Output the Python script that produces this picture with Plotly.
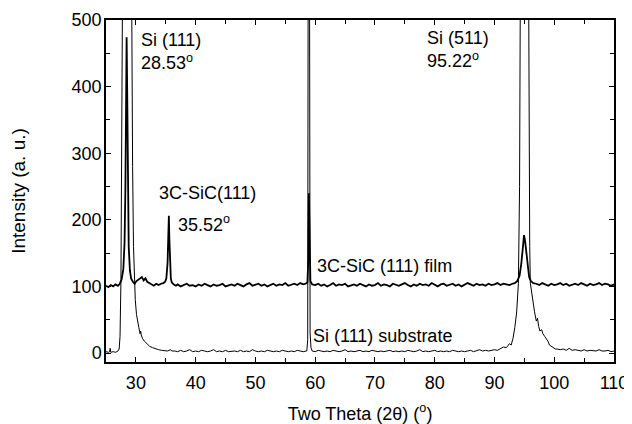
import plotly.graph_objects as go

# ---------------- data ----------------
# 3C-SiC (111) film on Si(111): baseline ~100
film_peak1_x = [25.0, 25.4, 25.8, 26.2, 26.6, 27.0, 27.3, 27.6, 27.9, 28.1, 28.25, 28.35, 28.45, 28.55, 28.65, 28.8,
                29.0, 29.2, 29.5, 29.8, 30.1, 30.4, 30.7, 31.0, 31.3, 31.6, 31.9, 32.2, 32.6, 33.0, 33.4, 33.8,
                34.2, 34.6, 34.9, 35.1, 35.3, 35.42, 35.52, 35.6, 35.7, 35.85, 36.0, 36.3, 36.7]
film_peak1_y = [101, 99, 102, 100, 103, 101, 104, 110, 126, 165, 250, 390, 474, 390, 245, 160,
                124, 112, 107, 104, 108, 110, 112, 114, 109, 112, 107, 105, 103, 101, 104, 102,
                104, 105, 107, 112, 135, 180, 206, 172, 130, 112, 106, 103, 101]

film_base1_x = [37.0, 37.5, 38.0, 38.5, 39.0, 39.5, 40.0, 40.5, 41.0, 41.5, 42.0, 42.5, 43.0, 43.5, 44.0,
                44.5, 45.0, 45.5, 46.0, 46.5, 47.0, 47.5, 48.0, 48.5, 49.0, 49.5, 50.0, 50.5, 51.0, 51.5,
                52.0, 52.5, 53.0, 53.5, 54.0, 54.5, 55.0, 55.5, 56.0, 56.5, 57.0, 57.5, 58.0]
film_base1_y = [103, 100, 102, 104, 101, 102, 100, 103, 101, 104, 102, 100, 103, 101, 102,
                104, 100, 102, 103, 101, 104, 102, 100, 103, 105, 101, 102, 104, 101, 103,
                100, 102, 104, 101, 103, 102, 105, 101, 103, 104, 102, 105, 103]

film_peak2_x = [58.4, 58.7, 58.85, 58.95, 59.05, 59.2, 59.5]
film_peak2_y = [104, 106, 140, 240, 150, 108, 103]

film_base2_x = [60.0, 60.5, 61.0, 61.5, 62.0, 62.5, 63.0, 63.5, 64.0, 64.5, 65.0, 65.5, 66.0, 66.5, 67.0,
                67.5, 68.0, 68.5, 69.0, 69.5, 70.0, 70.5, 71.0, 71.5, 72.0, 72.5, 73.0, 73.5, 74.0, 74.5,
                75.0, 75.5, 76.0, 76.5, 77.0, 77.5, 78.0, 78.5, 79.0, 79.5, 80.0, 80.5, 81.0, 81.5, 82.0,
                82.5, 83.0, 83.5, 84.0, 84.5, 85.0, 85.5, 86.0, 86.5, 87.0, 87.5, 88.0, 88.5, 89.0, 89.5,
                90.0, 90.5, 91.0, 91.5, 92.0, 92.5, 93.0]
film_base2_y = [102, 104, 101, 103, 100, 102, 105, 101, 103, 102,
                104, 100, 102, 103, 101, 104, 102, 100, 103, 101,
                102, 105, 101, 103, 102, 100, 104, 102, 101, 103,
                105, 102, 100, 103, 101, 104, 102, 103, 101, 105,
                102, 100, 103, 104, 101, 102, 104, 101, 103, 100,
                102, 105, 103, 101, 104, 102, 103, 101, 104, 102,
                103, 105, 102, 104, 103, 102, 104]

film_peak3_x = [93.4, 93.8, 94.2, 94.5, 94.75, 94.95, 95.15, 95.4, 95.6, 95.8, 96.1, 96.5]
film_peak3_y = [105, 108, 116, 135, 160, 177, 166, 142, 126, 114, 108, 105]

film_base3_x = [97.0, 97.5, 98.0, 98.5, 99.0, 99.5, 100.0, 100.5, 101.0, 101.5, 102.0, 102.5, 103.0, 103.5,
                104.0, 104.5, 105.0, 105.5, 106.0, 106.5, 107.0, 107.5, 108.0, 108.5, 109.0, 109.5, 110.0]
film_base3_y = [104, 102, 105, 103, 101, 104, 102, 103, 105, 102, 104, 101, 103, 104,
                102, 105, 103, 101, 104, 102, 103, 105, 102, 104, 103, 101, 103]

# Si (111) substrate: baseline ~0, saturated Si peaks
sub_peak1_x = [25.0, 25.4, 25.6, 25.7, 25.8, 26.2, 26.6, 27.0, 27.2, 27.35, 27.5, 27.65, 27.8, 28.0, 28.5,
               29.0, 29.2, 29.3, 29.45, 29.6, 29.75, 29.9, 30.1, 30.3, 30.5, 30.7, 30.8, 30.9, 31.1, 31.4, 31.8,
               32.3, 32.8, 33.3, 33.8, 34.3, 34.8, 35.3, 35.8, 36.0]
sub_peak1_y = [2, 1, 2, 7, 1, 2, 1, 3, 6, 25, 110, 300, 600, 1000, 1500,
               1000, 700, 480, 280, 160, 105, 80, 58, 45, 38, 29, 33, 27, 22, 18, 14,
               10, 8, 6, 5, 4, 4, 3, 5, 3]

sub_base1_x = [36.5, 37.0, 37.5, 38.0, 38.5, 39.0, 39.5, 40.0, 40.5, 41.0, 41.5, 42.0, 42.5, 43.0, 43.5,
               44.0, 44.5, 45.0, 45.5, 46.0, 46.5, 47.0, 47.5, 48.0, 48.5, 49.0, 49.5, 50.0, 50.5, 51.0,
               51.5, 52.0, 52.5, 53.0, 53.5, 54.0, 54.5, 55.0, 55.5, 56.0, 56.5, 57.0, 57.5, 58.0, 58.5]
sub_base1_y = [3, 2, 4, 2, 3, 5, 2, 3, 2, 4, 3, 2, 3, 5, 2,
               3, 2, 4, 2, 3, 3, 2, 4, 2, 3, 2, 5, 3, 2, 3,
               2, 4, 3, 2, 3, 2, 4, 3, 2, 3, 2, 4, 3, 2, 3]

sub_peak2_x = [58.6, 58.75, 58.85, 58.95, 59.05, 59.15, 59.3]
sub_peak2_y = [3, 20, 900, 1500, 600, 30, 8]

sub_base2_x = [59.5, 60.0, 60.5, 61.0, 61.5, 62.0, 62.5, 63.0, 63.5, 64.0, 64.5, 65.0, 65.5, 66.0, 66.5,
               67.0, 67.5, 68.0, 68.5, 69.0, 69.5, 70.0, 70.5, 71.0, 71.5, 72.0, 72.5, 73.0, 73.5, 74.0,
               74.5, 75.0, 75.5, 76.0, 76.5, 77.0, 77.5, 78.0, 78.5, 79.0, 79.5, 80.0, 80.5, 81.0, 81.5,
               82.0, 82.5, 83.0, 83.5, 84.0, 84.5, 85.0, 85.5, 86.0, 86.5, 87.0, 87.5, 88.0, 88.5, 89.0,
               89.5, 90.0, 90.5]
sub_base2_y = [3, 2, 4, 3, 2, 3, 2, 4, 3, 2, 3, 5, 2, 3, 2,
               3, 4, 2, 3, 2, 4, 3, 2, 3, 2, 3, 4, 2, 3, 2,
               3, 2, 4, 3, 2, 3, 5, 2, 3, 2, 3, 4, 2, 3, 2,
               3, 2, 4, 3, 2, 3, 2, 3, 4, 2, 3, 5, 3, 4, 3,
               4, 5, 4]

sub_peak3_x = [91.0, 91.5, 92.0, 92.5, 92.8, 93.1, 93.4, 93.7, 94.0, 94.2, 94.35, 94.6, 95.2, 95.6, 95.75,
               95.9, 96.0, 96.2, 96.4, 96.7, 97.0, 97.2, 97.4, 97.6, 97.9, 98.1, 98.4, 98.7, 99.0, 99.2,
               99.5, 99.8, 100.2]
sub_peak3_y = [6, 9, 8, 14, 12, 22, 38, 60, 104, 250, 600, 1200, 1500, 800, 400,
               160, 105, 92, 80, 62, 48, 52, 40, 33, 35, 29, 25, 21, 17, 12,
               10, 8, 6]

sub_base3_x = [100.5, 101.0, 101.5, 102.0, 102.5, 103.0, 103.5, 104.0, 104.5, 105.0, 105.5, 106.0, 106.5,
               107.0, 107.5, 108.0, 108.5, 109.0, 109.5, 110.0]
sub_base3_y = [6, 5, 6, 4, 7, 4, 5, 4, 3, 5, 3, 4, 3, 3, 5, 3, 3, 4, 2, 3]

x_ticks = [30, 40, 50, 60, 70, 80, 90, 100, 110]
y_ticks = [0, 100, 200, 300, 400, 500]

film_x = film_peak1_x + film_base1_x + film_peak2_x + film_base2_x + film_peak3_x + film_base3_x
film_y = film_peak1_y + film_base1_y + film_peak2_y + film_base2_y + film_peak3_y + film_base3_y
sub_x = sub_peak1_x + sub_base1_x + sub_peak2_x + sub_base2_x + sub_peak3_x + sub_base3_x
sub_y = sub_peak1_y + sub_base1_y + sub_peak2_y + sub_base2_y + sub_peak3_y + sub_base3_y
assert len(film_x) == len(film_y), (len(film_x), len(film_y))
assert len(sub_x) == len(sub_y), (len(sub_x), len(sub_y))

# ---------------- figure ----------------
FONT = "Liberation Sans, Arial, sans-serif"

fig = go.Figure()
fig.add_trace(go.Scatter(x=sub_x, y=sub_y, mode="lines", name="Si (111) substrate",
                         line=dict(color="black", width=1)))
fig.add_trace(go.Scatter(x=film_x, y=film_y, mode="lines", name="3C-SiC (111) film",
                         line=dict(color="black", width=1.8)))

annots = [
    ("Si (111)<br>28.53<sup>o</sup>", 30.5, 453),
    ("3C-SiC(111)", 33.6, 241),
    ("35.52<sup>o</sup>", 36.7, 194),
    ("Si (511)<br>95.22<sup>o</sup>", 78.4, 455),
    ("3C-SiC (111) film", 60.0, 130),
    ("Si (111) substrate", 59.3, 26),
]
for txt, ax, ay in annots:
    fig.add_annotation(x=ax, y=ay, text=txt, showarrow=False, xanchor="left", yanchor="middle",
                       align="left", font=dict(family=FONT, size=18, color="black"))

axis_common = dict(showline=True, linecolor="black", linewidth=1.5, mirror="ticks",
                   ticks="inside", ticklen=5, tickwidth=1.2, tickcolor="black",
                   showgrid=False, zeroline=False, ticklabeloverflow="allow",
                   tickfont=dict(family=FONT, size=18, color="black"))

fig.update_xaxes(range=[25, 110], tickmode="array", tickvals=x_ticks,
                 minor=dict(dtick=5, tick0=25, ticks="inside", ticklen=4, tickcolor="black", showgrid=False),
                 ticklabelstandoff=4,
                 title=dict(text="Two Theta (2θ) (<sup>o</sup>)", font=dict(family=FONT, size=18, color="black"),
                            standoff=16),
                 **axis_common)
fig.update_yaxes(range=[-13.5, 500], tickmode="array", tickvals=y_ticks,
                 minor=dict(dtick=50, tick0=0, ticks="inside", ticklen=4, tickcolor="black", showgrid=False),
                 ticklabelstandoff=-1,
                 title=dict(text="Intensity (a. u.)", font=dict(family=FONT, size=19, color="black"),
                            standoff=43),
                 **axis_common)

# the page body adds an 8 px margin, so the figure is 16 px smaller than the window
fig.update_layout(width=624, height=416, showlegend=False,
                  margin=dict(l=98, r=18, t=12, b=62, autoexpand=False),
                  plot_bgcolor="white", paper_bgcolor="white")

fig.write_html("out.html")
